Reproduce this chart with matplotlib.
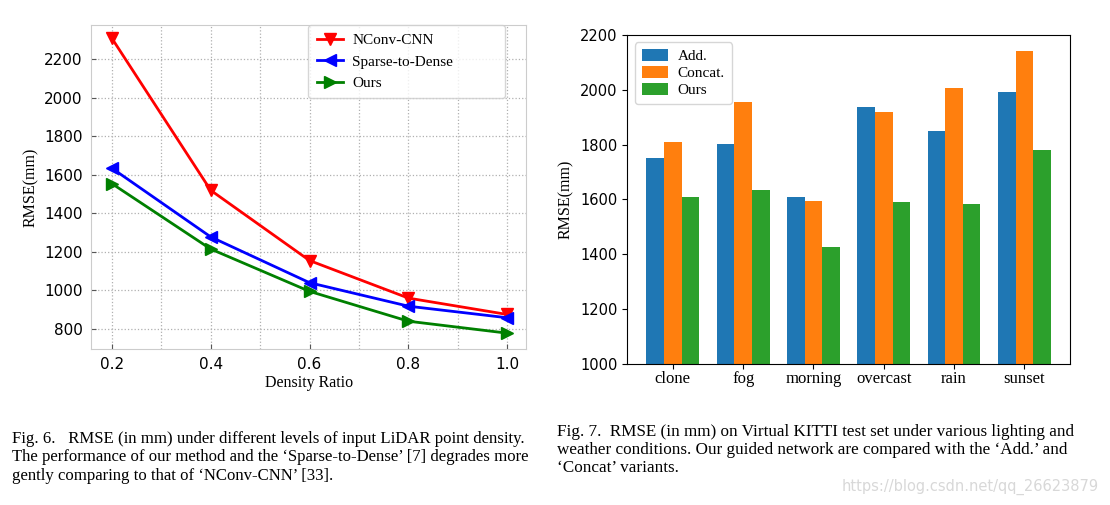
import numpy as np
import matplotlib
matplotlib.use('Agg')
import matplotlib.pyplot as plt
from matplotlib.ticker import MultipleLocator

# left chart data
density = [0.2, 0.4, 0.6, 0.8, 1.0]
nconv = [2310, 1520, 1155, 960, 875]
sparse = [1635, 1278, 1040, 918, 858]
ours_line = [1555, 1215, 995, 840, 778]

# right chart data
conditions = ['clone', 'fog', 'morning', 'overcast', 'rain', 'sunset']
add_vals = [1752, 1803, 1610, 1938, 1850, 1990]
concat_vals = [1808, 1957, 1595, 1920, 2008, 2142]
ours_bar = [1610, 1636, 1425, 1592, 1585, 1780]

serif = ['Liberation Serif', 'DejaVu Serif']

fig = plt.figure(figsize=(11.1, 5.05), dpi=100)

# ---- left: line plot
ax1 = fig.add_axes([0.082, 0.309, 0.392, 0.641])
ax1.plot(density, nconv, color='red', marker='v', markersize=9, lw=2, label='NConv-CNN')
ax1.plot(density, sparse, color='blue', marker='<', markersize=9, lw=2, label='Sparse-to-Dense')
ax1.plot(density, ours_line, color='green', marker='>', markersize=9, lw=2, label='Ours')
ax1.set_xlim(0.158, 1.038)
ax1.set_ylim(696, 2377)
ax1.set_xticks(density)
ax1.xaxis.set_minor_locator(MultipleLocator(0.1))
ax1.yaxis.set_major_locator(MultipleLocator(200))
ax1.grid(True, which='major', ls=':', color='#b0b0b0', lw=0.9)
ax1.grid(True, which='minor', axis='x', ls=':', color='#b0b0b0', lw=0.9)
ax1.tick_params(which='minor', length=0)
ax1.tick_params(labelsize=11, color='#555555', direction='in', pad=6)
for s in ax1.spines.values():
    s.set_color('#cccccc')
ax1.set_xlabel('Density Ratio', family=serif, fontsize=11.5, labelpad=2)
ax1.set_ylabel('RMSE(mm)', family=serif, fontsize=11.5)
ax1.legend(loc='upper left', bbox_to_anchor=(0.499, 1.0, 0.453, 0.0), mode='expand',
           borderaxespad=0, prop={'family': serif, 'size': 11}, handlelength=1.7,
           handletextpad=0.65, borderpad=0.55, labelspacing=0.5, fancybox=True,
           edgecolor='#cccccc')

# ---- right: grouped bars
ax2 = fig.add_axes([0.565, 0.279, 0.399, 0.652])
x = np.arange(len(conditions))
w = 0.25
ax2.bar(x - w, np.array(add_vals) - 1000, w, bottom=1000, color='#1f77b4', label='Add.')
ax2.bar(x, np.array(concat_vals) - 1000, w, bottom=1000, color='#ff7f0e', label='Concat.')
ax2.bar(x + w, np.array(ours_bar) - 1000, w, bottom=1000, color='#2ca02c', label='Ours')
ax2.set_ylim(1000, 2200)
ax2.set_xlim(-0.65, 5.65)
ax2.set_xticks(x)
ax2.set_xticklabels(conditions, family=serif, fontsize=12)
ax2.tick_params(axis='x', pad=1.5)
ax2.yaxis.set_major_locator(MultipleLocator(200))
ax2.tick_params(axis='y', labelsize=10.5)
ax2.set_ylabel('RMSE(mm)', family=serif, fontsize=11.5)
ax2.legend(loc='upper left', prop={'family': serif, 'size': 11}, handlelength=1.7,
           handleheight=0.75, handletextpad=0.65, borderpad=0.45, labelspacing=0.2,
           fancybox=True)

# ---- captions
fig.text(0.011, 1 - 431 / 505, "Fig. 6.   RMSE (in mm) under different levels of input LiDAR point density.\n"
         "The performance of our method and the \u2018Sparse-to-Dense\u2019 [7] degrades more\n"
         "gently comparing to that of \u2018NConv-CNN\u2019 [33].", linespacing=1.2,
         family=serif, fontsize=12.1, va='top', ha='left')
fig.text(0.502, 1 - 424 / 505, "Fig. 7.  RMSE (in mm) on Virtual KITTI test set under various lighting and\n"
         "weather conditions. Our guided network are compared with the \u2018Add.\u2019 and\n"
         "\u2018Concat\u2019 variants.", linespacing=1.17,
         family=serif, fontsize=12.3, va='top', ha='left')
fig.text(0.99, 1 - 487 / 505, "https://blog.csdn.net/qq_26623879", fontsize=10.5,
         color='#d8d8d8', ha='right', va='center')

fig.savefig('out.png', dpi=100)
